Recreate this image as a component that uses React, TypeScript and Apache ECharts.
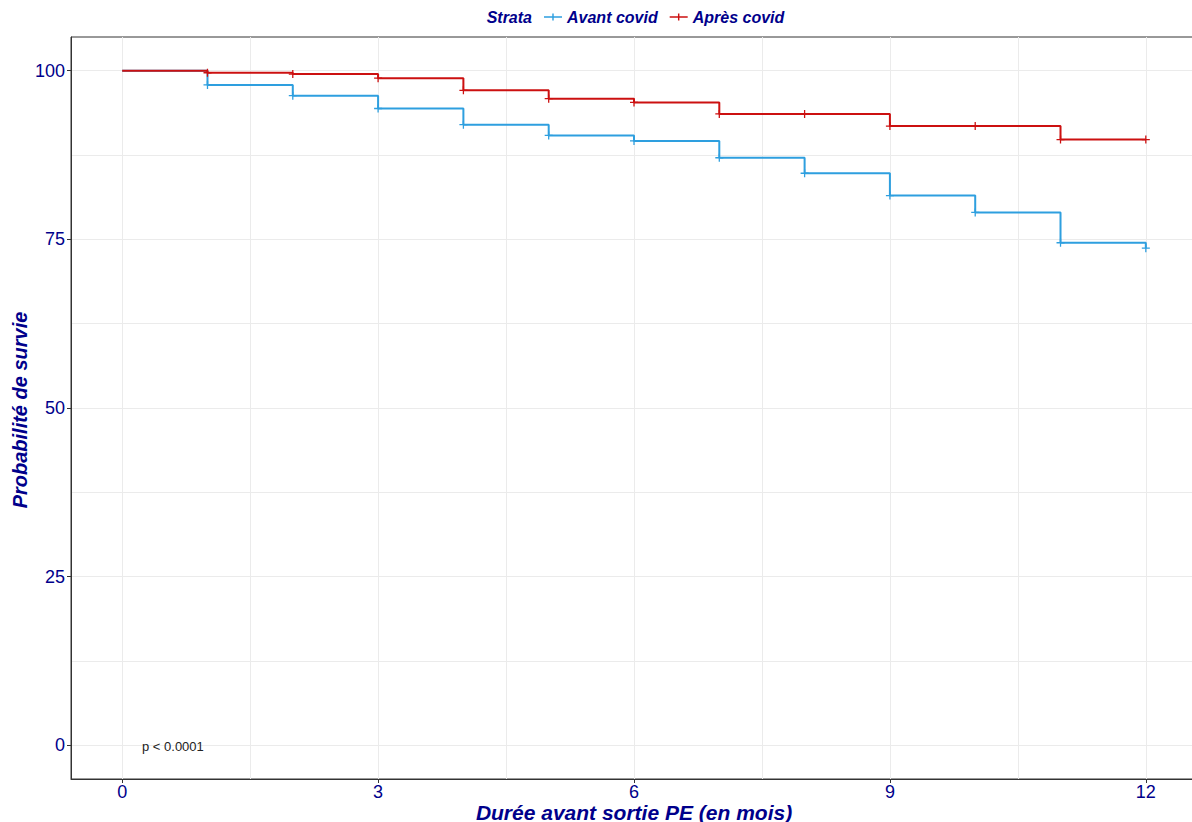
import React, { useEffect, useRef } from "react";
import * as echarts from "echarts";

const months = [0, 1, 2, 3, 4, 5, 6, 7, 8, 9, 10, 11, 12];
const avantCovid = [100, 97.9, 96.3, 94.4, 92.0, 90.4, 89.6, 87.1, 84.8, 81.5, 79.0, 74.5, 73.7];
const apresCovid = [100, 99.7, 99.5, 98.9, 97.1, 95.85, 95.3, 93.6, 93.6, 91.8, 91.8, 89.8, 89.8];
const xTicks = [0, 3, 6, 9, 12];
const yTicks = [0, 25, 50, 75, 100];
const xGrid = [0, 1.5, 3, 4.5, 6, 7.5, 9, 10.5, 12];
const yGrid = [0, 12.5, 25, 37.5, 50, 62.5, 75, 87.5, 100];
const seriesNames = ["Avant covid", "Après covid"];
const colors = ["#2E9FDF", "#CC1010"];

const DARK = "#00008B";
const PLUS = "path://M4.2,0H5.8V4.2H10V5.8H5.8V10H4.2V5.8H0V4.2H4.2Z";
const LEG = "path://M0,4.3H20V5.7H0Z M9.2,1H10.8V9H9.2Z";

function toData(vals: number[]) {
  return months.map((m, i) =>
    i === 0 ? { value: [m, vals[i]], symbol: "none" } : { value: [m, vals[i]] }
  );
}

export default function App() {
  const ref = useRef<HTMLDivElement>(null);
  useEffect(() => {
    const chart = echarts.init(ref.current!, undefined, { renderer: "svg" });
    const font = "Liberation Sans, Arial, sans-serif";
    chart.setOption({
      animation: false,
      textStyle: { fontFamily: font },
      grid: { left: 71, top: 37, width: 1126, height: 742, show: true, borderColor: "#333", borderWidth: 1 },
      legend: {
        left: 539,
        top: 4,
        itemWidth: 18,
        itemHeight: 12,
        itemGap: 12,
        icon: LEG,
        data: seriesNames,
        textStyle: { color: DARK, fontSize: 16, fontWeight: "bold", fontStyle: "italic", fontFamily: font },
      },
      xAxis: {
        type: "value",
        min: -0.6,
        max: 12.6,
        splitLine: { show: false },
        axisLine: { show: true, onZero: false, lineStyle: { color: "#333" } },
        axisTick: { show: true, length: 4, customValues: xTicks, lineStyle: { color: "#333" } },
        axisLabel: { customValues: xTicks, color: DARK, fontSize: 18, lineHeight: 17, margin: 4, fontFamily: font },
      },
      yAxis: {
        type: "value",
        min: -5,
        max: 105,
        splitLine: { show: false },
        axisLine: { show: true, onZero: false, lineStyle: { color: "#333" } },
        axisTick: { show: true, length: 4, customValues: yTicks, lineStyle: { color: "#333" } },
        axisLabel: { customValues: yTicks, color: DARK, fontSize: 18, margin: 6, fontFamily: font },
      },
      graphic: [
        { type: "text", x: 532, y: 17, style: { text: "Strata", fill: DARK, font: `italic bold 16px ${font}`, align: "right", verticalAlign: "middle" } },
        { type: "text", x: 634, y: 812, style: { text: "Durée avant sortie PE (en mois)", fill: DARK, font: `italic bold 21px ${font}`, lineHeight: 20, align: "center", verticalAlign: "middle" } },
        { type: "text", x: 20, y: 410, rotation: Math.PI / 2, style: { text: "Probabilité de survie", fill: DARK, font: `italic bold 20px ${font}`, align: "center", verticalAlign: "middle" } },
        { type: "text", x: 142, y: 746, z: 10, style: { text: "p < 0.0001", fill: "#222", font: `13px ${font}`, align: "left", verticalAlign: "middle" } },
      ],
      series: [
        {
          type: "line",
          name: "grid",
          data: [],
          silent: true,
          z: 0,
          markLine: {
            silent: true,
            symbol: "none",
            z: 0,
            label: { show: false },
            lineStyle: { color: "#EBEBEB", width: 1, type: "solid" },
            data: [...xGrid.map((v) => ({ xAxis: v })), ...yGrid.map((v) => ({ yAxis: v }))],
          },
        },
        ...seriesNames.map((name, k) => ({
          type: "line",
          name,
          step: "end",
          data: toData(k === 0 ? avantCovid : apresCovid),
          color: colors[k],
          lineStyle: { width: 2, color: colors[k] },
          symbol: PLUS,
          symbolSize: 8,
          showSymbol: true,
          itemStyle: { color: colors[k] },
          z: 10 + k,
        })),
      ],
    });
    return () => chart.dispose();
  }, []);
  return (
    <div style={{ position: "absolute", left: 0, top: 0, width: 1192, height: 822, overflow: "hidden" }}>
      <div ref={ref} style={{ width: 1200, height: 822 }} />
    </div>
  );
}
